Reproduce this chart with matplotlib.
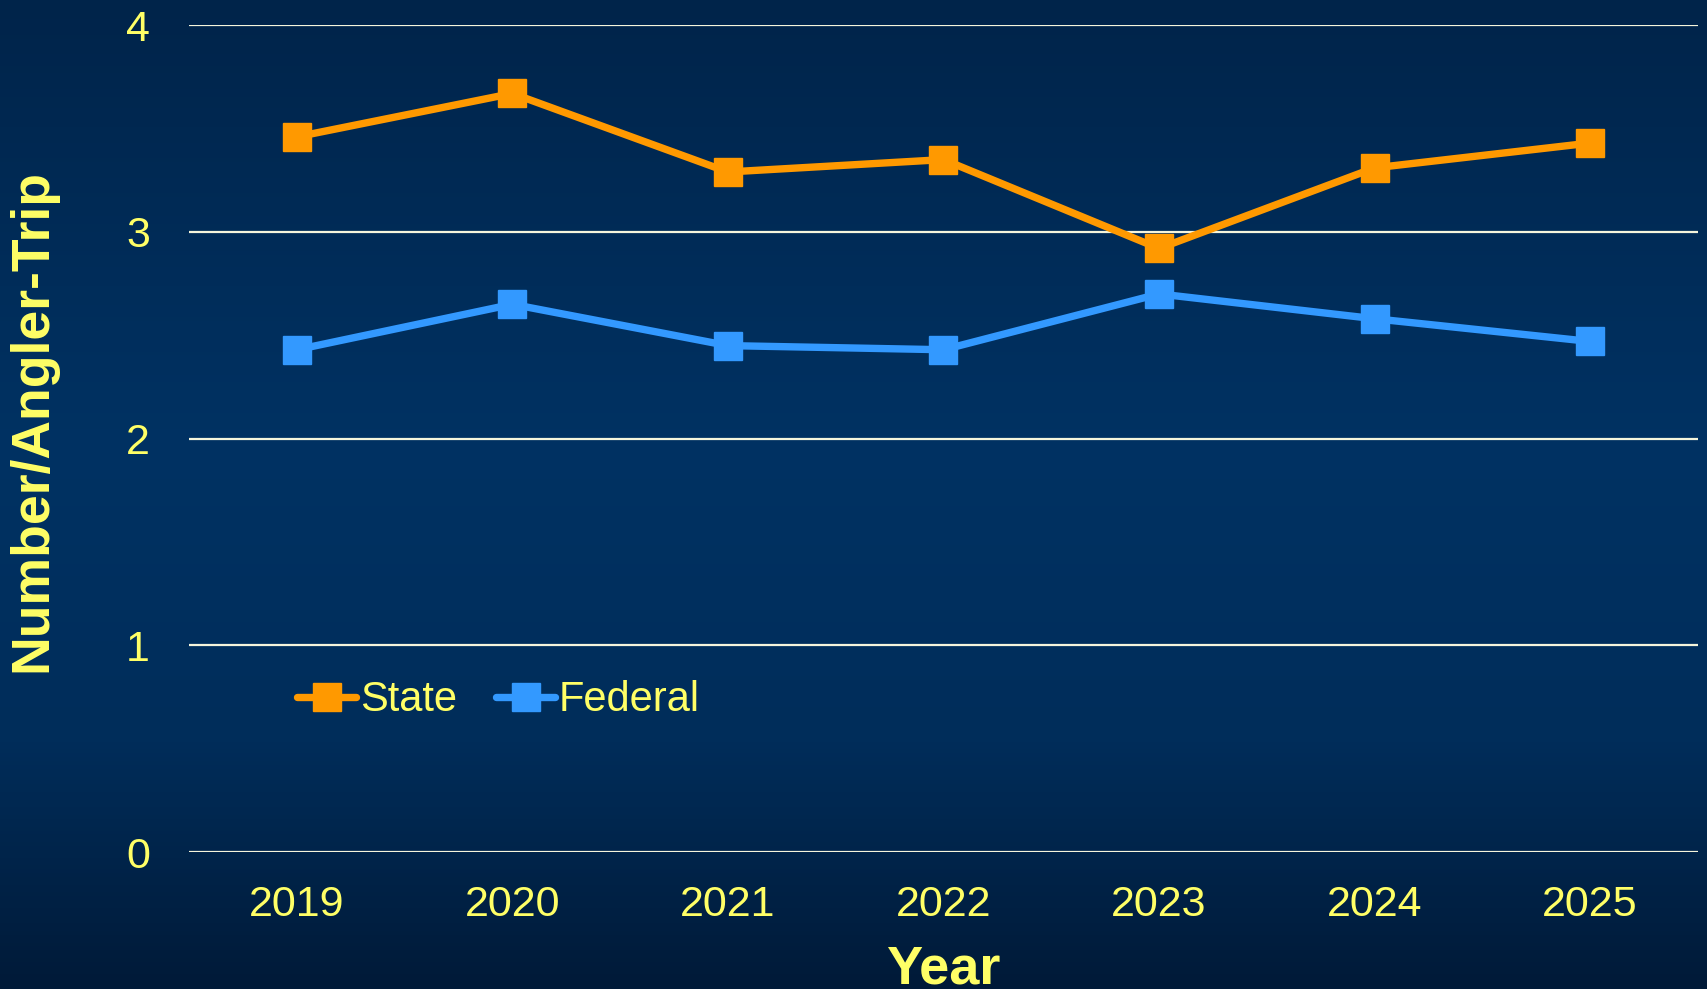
import numpy as np
import matplotlib
matplotlib.use("Agg")
import matplotlib.pyplot as plt
from matplotlib.colors import LinearSegmentedColormap

years = ["2019", "2020", "2021", "2022", "2023", "2024", "2025"]
state = [3.46, 3.67, 3.29, 3.35, 2.92, 3.31, 3.43]
federal = [2.43, 2.65, 2.45, 2.43, 2.70, 2.58, 2.47]
yticks = [0, 1, 2, 3, 4]

yellow = "#FFFF66"
plt.rcParams['font.family'] = ['Liberation Sans', 'DejaVu Sans']

fig = plt.figure(figsize=(17.07, 9.89), dpi=100)

# gradient background
bg = fig.add_axes([0, 0, 1, 1], zorder=-10)
cmap = LinearSegmentedColormap.from_list(
    "bg", [(0.0, "#00244a"), (0.45, "#003263"), (0.75, "#002d5a"), (1.0, "#001a38")])
bg.imshow(np.linspace(0, 1, 256).reshape(-1, 1), aspect="auto", cmap=cmap,
          extent=[0, 1, 0, 1], origin="upper")
bg.axis("off")

ax = fig.add_axes([0.1107, 0.1385, 0.884, 0.836])
ax.patch.set_alpha(0)
x = np.arange(len(years))
ax.plot(x, state, color="#FF9900", lw=5.3, marker="s", ms=19.5, label="State",
        solid_capstyle="round", zorder=3)
ax.plot(x, federal, color="#3399FF", lw=5.3, marker="s", ms=19.5, label="Federal",
        solid_capstyle="round", zorder=3)

ax.set_xlim(-0.5, len(years) - 0.5)
ax.set_ylim(0, 4)
ax.set_yticks(yticks)
ax.set_xticks(x)
ax.set_xticklabels(years)
for s in ax.spines.values():
    s.set_visible(False)
ax.grid(axis="y", color="#F5F5DC", lw=1.6)
ax.set_axisbelow(True)
ax.tick_params(axis="y", length=0, pad=28, labelsize=31, labelcolor=yellow)
ax.tick_params(axis="x", length=0, pad=24, labelsize=31, labelcolor=yellow)

ax.set_xlabel("Year", fontsize=39, fontweight="bold", color=yellow, labelpad=14)
ax.set_ylabel("Number/Angler-Trip", fontsize=38.5, fontweight="bold", color=yellow)
ax.yaxis.set_label_coords(-0.0875, 0.522)

leg = ax.legend(loc="upper left", bbox_to_anchor=(0.047, 0.253), ncol=2, frameon=False,
                fontsize=30, handlelength=1.4, handletextpad=0.1, columnspacing=0.95)
for t in leg.get_texts():
    t.set_color(yellow)

fig.savefig("out.png", dpi=100)
